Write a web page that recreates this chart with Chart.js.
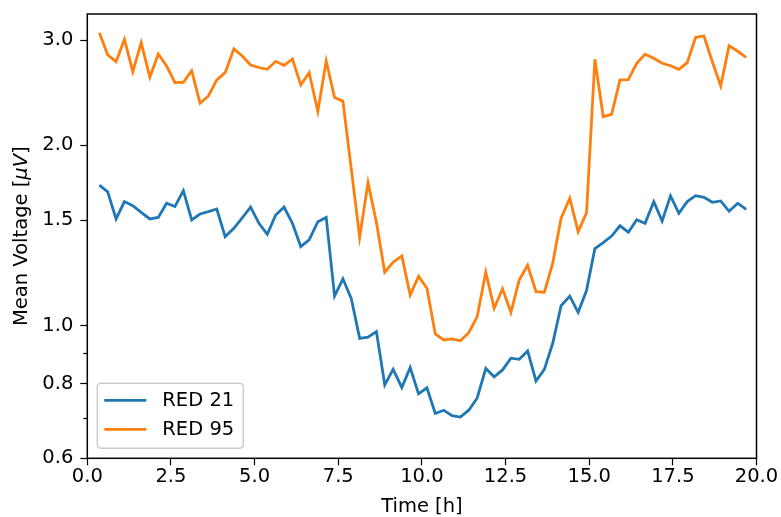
<!DOCTYPE html>
<html>
<head>
<meta charset="utf-8">
<script src="https://cdn.jsdelivr.net/npm/chart.js@4/dist/chart.umd.min.js"></script>
<style>
  html, body { margin: 0; padding: 0; background: #fff; }
  #wrap { width: 781px; height: 517px; position: relative; }
</style>
</head>
<body>
<div id="wrap"><canvas id="c" width="781" height="517"></canvas></div>
<script>
// ---- data ----
const times = [0.36, 0.61, 0.86, 1.11, 1.36, 1.61, 1.87, 2.12, 2.37, 2.62,
  2.87, 3.12, 3.37, 3.62, 3.87, 4.12, 4.38, 4.63, 4.88, 5.13,
  5.38, 5.63, 5.88, 6.13, 6.38, 6.63, 6.89, 7.14, 7.39, 7.64,
  7.89, 8.14, 8.39, 8.64, 8.89, 9.14, 9.40, 9.65, 9.90, 10.15,
  10.40, 10.65, 10.90, 11.15, 11.40, 11.65, 11.91, 12.16, 12.41, 12.66,
  12.91, 13.16, 13.41, 13.66, 13.91, 14.16, 14.42, 14.67, 14.92, 15.17,
  15.42, 15.67, 15.92, 16.17, 16.42, 16.67, 16.93, 17.18, 17.43, 17.68,
  17.93, 18.18, 18.43, 18.68, 18.93, 19.18, 19.44, 19.69];

const red21 = [1.717, 1.673, 1.507, 1.611, 1.586, 1.546, 1.507, 1.516, 1.601, 1.581,
  1.680, 1.501, 1.536, 1.550, 1.566, 1.408, 1.454, 1.513, 1.577, 1.482,
  1.421, 1.530, 1.577, 1.482, 1.355, 1.390, 1.491, 1.516, 1.120, 1.197,
  1.109, 0.952, 0.956, 0.977, 0.796, 0.845, 0.788, 0.851, 0.769, 0.787,
  0.713, 0.722, 0.707, 0.703, 0.722, 0.756, 0.848, 0.821, 0.843, 0.882,
  0.878, 0.907, 0.808, 0.845, 0.934, 1.079, 1.120, 1.052, 1.144, 1.345,
  1.376, 1.411, 1.468, 1.432, 1.503, 1.482, 1.611, 1.495, 1.647, 1.540,
  1.611, 1.648, 1.638, 1.607, 1.615, 1.552, 1.601, 1.564];

const red95 = [3.085, 2.833, 2.760, 3.008, 2.656, 2.969, 2.600, 2.843, 2.714, 2.546,
  2.550, 2.666, 2.352, 2.419, 2.573, 2.646, 2.899, 2.821, 2.725, 2.699,
  2.680, 2.764, 2.722, 2.789, 2.524, 2.646, 2.279, 2.767, 2.405, 2.370,
  1.826, 1.405, 1.733, 1.488, 1.228, 1.276, 1.307, 1.125, 1.208, 1.154,
  0.968, 0.946, 0.950, 0.943, 0.973, 1.034, 1.228, 1.069, 1.152, 1.052,
  1.192, 1.261, 1.139, 1.137, 1.271, 1.511, 1.632, 1.435, 1.543, 2.786,
  2.234, 2.254, 2.573, 2.576, 2.743, 2.840, 2.796, 2.743, 2.717, 2.680,
  2.750, 3.031, 3.047, 2.760, 2.514, 2.935, 2.873, 2.807];

const seriesNames = ['RED 21', 'RED 95'];
const seriesColors = ['#1f77b4', '#ff7f0e'];

const yTickValues = [0.6, 0.7, 0.8, 0.9, 1.0, 1.5, 2.0, 3.0];
const yTickLabels = ['0.6', '', '0.8', '', '1.0', '1.5', '2.0', '3.0'];
const xTickValues = [0, 2.5, 5, 7.5, 10, 12.5, 15, 17.5, 20];
const yTitleParts = [['Mean Voltage [', false], ['μV', true], [']', false]];

const FONT = 'DejaVu Sans';
const FS = 19.5;

function pts(vals) { return times.map((t, i) => ({ x: t, y: vals[i] })); }

// frame + minor ticks + legend + y title (matplotlib-like)
const decor = {
  id: 'decor',
  afterDraw(chart) {
    const ctx = chart.ctx;
    const a = chart.chartArea;
    const ys = chart.scales.y;
    ctx.save();
    // minor ticks
    ctx.strokeStyle = '#000';
    ctx.lineWidth = 1.2;
    yTickValues.forEach((v, i) => {
      if (yTickLabels[i] === '') {
        const py = Math.round(ys.getPixelForValue(v)) + 0.5;
        ctx.beginPath();
        ctx.moveTo(a.left - 4, py);
        ctx.lineTo(a.left, py);
        ctx.stroke();
      }
    });
    // frame
    ctx.lineWidth = 1.5;
    ctx.strokeRect(a.left, a.top, a.right - a.left, a.bottom - a.top);

    // y title with italic unit (mathtext style)
    ctx.save();
    ctx.translate(22, (a.top + a.bottom) / 2);
    ctx.rotate(-Math.PI / 2);
    ctx.fillStyle = '#000';
    ctx.textBaseline = 'middle';
    ctx.textAlign = 'left';
    const fontOf = (it) => (it ? 'italic ' : '') + FS + 'px "' + FONT + '"';
    let total = 0;
    yTitleParts.forEach(([t, it]) => { ctx.font = fontOf(it); total += ctx.measureText(t).width; });
    let cx = -total / 2;
    yTitleParts.forEach(([t, it]) => { ctx.font = fontOf(it); ctx.fillText(t, cx, 0); cx += ctx.measureText(t).width; });
    ctx.restore();

    // legend
    const lx = a.left + 10, lw = 146, lh = 65;
    const ly = a.bottom - 10 - lh;
    const r = 4;
    ctx.beginPath();
    ctx.moveTo(lx + r, ly);
    ctx.lineTo(lx + lw - r, ly);
    ctx.quadraticCurveTo(lx + lw, ly, lx + lw, ly + r);
    ctx.lineTo(lx + lw, ly + lh - r);
    ctx.quadraticCurveTo(lx + lw, ly + lh, lx + lw - r, ly + lh);
    ctx.lineTo(lx + r, ly + lh);
    ctx.quadraticCurveTo(lx, ly + lh, lx, ly + lh - r);
    ctx.lineTo(lx, ly + r);
    ctx.quadraticCurveTo(lx, ly, lx + r, ly);
    ctx.closePath();
    ctx.fillStyle = 'rgba(255,255,255,0.8)';
    ctx.fill();
    ctx.strokeStyle = '#cccccc';
    ctx.lineWidth = 1.5;
    ctx.stroke();

    ctx.font = FS + 'px "' + FONT + '"';
    ctx.textBaseline = 'middle';
    ctx.textAlign = 'left';
    chart.data.datasets.forEach((ds, i) => {
      const cy = ly + 17 + i * 29;
      ctx.strokeStyle = ds.borderColor;
      ctx.lineWidth = 2.8;
      ctx.beginPath();
      ctx.moveTo(lx + 7, cy);
      ctx.lineTo(lx + 49, cy);
      ctx.stroke();
      ctx.fillStyle = '#000';
      ctx.fillText(ds.label, lx + 65, cy + 1);
    });
    ctx.restore();
  }
};

new Chart(document.getElementById('c'), {
  type: 'line',
  data: {
    datasets: [
      { label: seriesNames[0], data: pts(red21), borderColor: seriesColors[0], backgroundColor: seriesColors[0],
        borderWidth: 2.8, pointRadius: 0, tension: 0, fill: false, order: 2 },
      { label: seriesNames[1], data: pts(red95), borderColor: seriesColors[1], backgroundColor: seriesColors[1],
        borderWidth: 2.8, pointRadius: 0, tension: 0, fill: false, order: 1 }
    ]
  },
  options: {
    responsive: false,
    animation: false,
    devicePixelRatio: 1,
    layout: { padding: { top: 14, right: 24.5, left: 0, bottom: 0 } },
    plugins: { legend: { display: false }, tooltip: { enabled: false } },
    scales: {
      x: {
        type: 'linear',
        min: 0, max: 20,
        afterBuildTicks: (s) => { s.ticks = xTickValues.map(v => ({ value: v })); },
        afterFit: (s) => { s.height = 58.7; s.paddingLeft = 0; s.paddingRight = 0; },
        ticks: {
          color: '#000', font: { family: FONT, size: FS }, padding: 0,
          maxRotation: 0, autoSkip: false,
          callback: (v) => Number(v).toFixed(1)
        },
        grid: { drawOnChartArea: false, drawTicks: true, tickLength: 7, tickWidth: 1.2, tickColor: '#000' },
        border: { display: false },
        title: { display: true, text: 'Time [h]', color: '#000', font: { family: FONT, size: FS }, padding: { top: 0, bottom: -2 } }
      },
      y: {
        type: 'logarithmic',
        min: 0.6, max: 3.316,
        afterBuildTicks: (s) => { s.ticks = yTickValues.map(v => ({ value: v })); },
        afterFit: (s) => { s.width = 87.3; s.paddingTop = 0; s.paddingBottom = 0; },
        ticks: {
          color: '#000', font: { family: FONT, size: FS }, padding: 7, autoSkip: false,
          callback: (v, i) => yTickLabels[i]
        },
        grid: {
          drawOnChartArea: false, drawTicks: true, tickLength: 7, tickWidth: 1.2,
          tickColor: (c) => (yTickLabels[c.index] === '' ? 'rgba(0,0,0,0)' : '#000')
        },
        border: { display: false },
        title: { display: false }
      }
    }
  },
  plugins: [decor]
});
</script>
</body>
</html>
